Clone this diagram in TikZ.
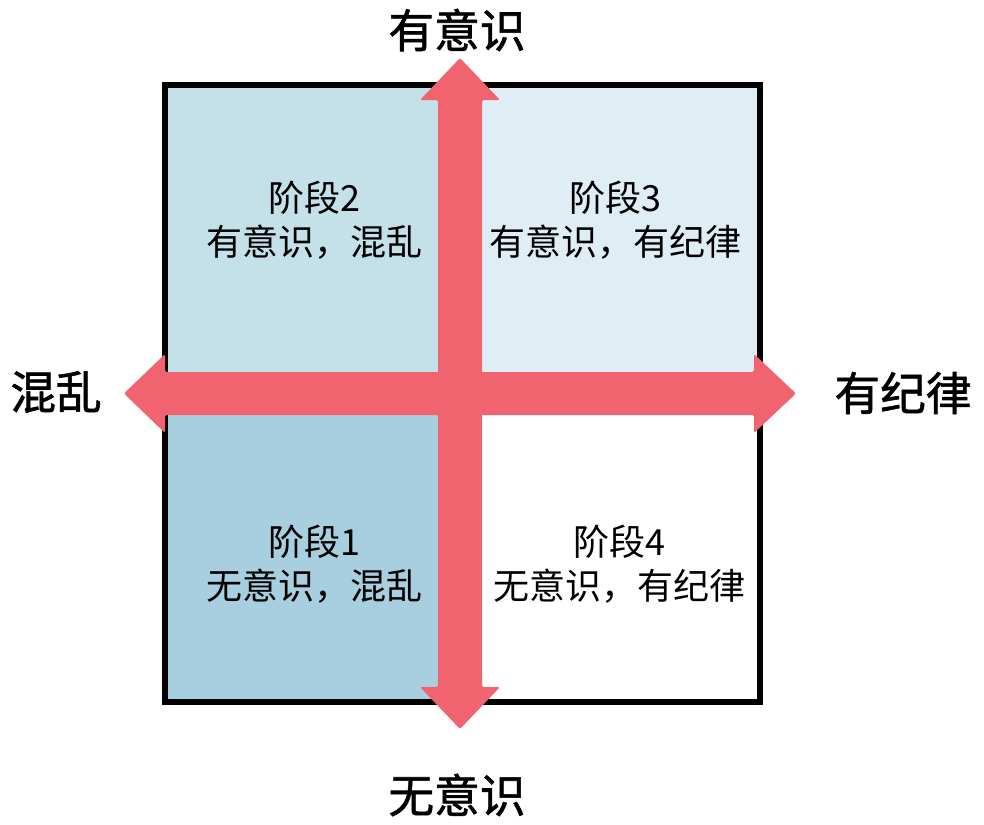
\documentclass[tikz,border=0pt]{standalone}
\usepackage{fontspec}
\setmainfont{Noto Sans CJK SC}
\newfontfamily\axisfont{Noto Sans CJK SC}[FakeBold=1.3]
\usetikzlibrary{calc}
\definecolor{qtl}{RGB}{196,224,232}
\definecolor{qtr}{RGB}{223,237,244}
\definecolor{qbl}{RGB}{167,207,223}
\definecolor{arrowred}{RGB}{241,99,110}
\tikzset{
  quadtext/.style={align=center, font=\fontsize{25.6}{31.5}\selectfont, inner sep=0pt},
  axistext/.style={font=\axisfont\fontsize{32.5}{36}\selectfont, inner sep=0pt}
}

\begin{document}
\begin{tikzpicture}[x=0.025cm, y=-0.025cm]
			%%%%% START %%%%%
			\useasboundingbox (0, 0) rectangle (984, 824);
			
			\fill[qtl] (165, 85) rectangle (460, 393);
			\fill[qtr] (460, 85) rectangle (760, 393);
			\fill[qbl] (165, 393) rectangle (460, 702);
			\draw[line width=4.3pt] (165, 85) rectangle (760, 702);
			
			\fill[arrowred, rounded corners=1.5pt] (165, 372) -- (754, 372) -- (754, 354) -- (796, 393.5)
				-- (754, 433) -- (754, 415) -- (165, 415) -- (165, 433) -- (124, 393.5) -- (165, 354) -- cycle;
			\fill[arrowred, rounded corners=1.5pt] (438, 100) -- (420, 100) -- (460, 58) -- (500, 100)
				-- (482, 100) -- (482, 687) -- (500, 687) -- (460, 729) -- (420, 687) -- (438, 687) -- cycle;
			
			\node[quadtext] (stage2) at (314, 220) {阶段2\\有意识，混乱};
			\node[quadtext] (stage3) at (615, 220) {阶段3\\有意识，有纪律};
			\node[quadtext] (stage1) at (314, 564) {阶段1\\无意识，混乱};
			\node[quadtext] (stage4) at (619, 564) {阶段4\\无意识，有纪律};
			
			\node[axistext] (aware) at (457, 30) {有意识};
			\node[axistext] (unaware) at (457, 795) {无意识};
			\node[axistext] (chaos) at (56, 392) {混乱};
			\node[axistext] (order) at (903, 393) {有纪律};
			%%%%% END %%%%%
\end{tikzpicture}
\end{document}
